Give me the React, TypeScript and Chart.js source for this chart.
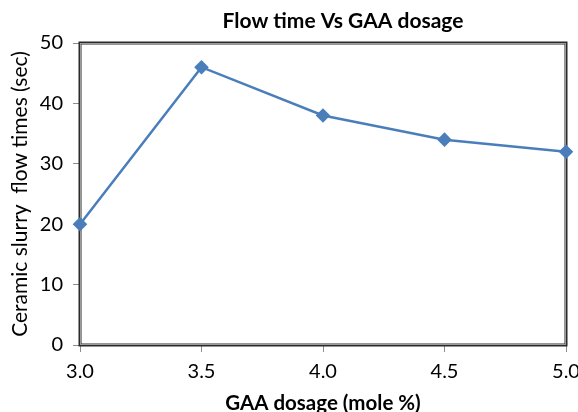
import React, { useEffect, useRef } from "react";
import { Chart, registerables } from "chart.js";

Chart.register(...registerables);

const titleText = "Flow time Vs GAA dosage";
const xAxisTitle = "GAA dosage (mole %)";
const yAxisTitle = "Ceramic slurry  flow times (sec)";
const dosage = [3.0, 3.5, 4.0, 4.5, 5.0];
const flowTimes = [20, 46, 38, 34, 32];
const FONT = "Lato, 'Liberation Sans', sans-serif";
const LINE_COLOR = "#4a7ebb";

const framePlugin = {
  id: "frame",
  beforeDatasetsDraw(chart: any) {
    const { ctx, chartArea: a } = chart;
    ctx.save();
    ctx.strokeStyle = "#2a2a2a";
    ctx.lineWidth = 3;
    ctx.strokeRect(a.left, a.top, a.right - a.left, a.bottom - a.top);
    ctx.strokeStyle = "#9a9a9a";
    ctx.lineWidth = 1;
    ctx.strokeRect(a.left + 0.5, a.top + 0.5, a.right - a.left - 1, a.bottom - a.top - 1);
    ctx.restore();
  },
};

const titlePlugin = {
  id: "customTitle",
  afterDraw(chart: any) {
    const { ctx } = chart;
    ctx.save();
    ctx.font = `bold 21px ${FONT}`;
    ctx.fillStyle = "#000";
    ctx.textAlign = "center";
    ctx.textBaseline = "middle";
    ctx.fillText(titleText, 343, 21);
    ctx.restore();
  },
};

export default function App() {
  const ref = useRef<HTMLCanvasElement>(null);
  useEffect(() => {
    document.body.style.margin = "0";
    const chart = new Chart(ref.current!, {
      type: "line",
      data: {
        datasets: [
          {
            data: dosage.map((x, i) => ({ x, y: flowTimes[i] })),
            borderColor: LINE_COLOR,
            backgroundColor: LINE_COLOR,
            borderWidth: 2.5,
            pointStyle: "rectRot",
            pointRadius: 5.5,
            pointHoverRadius: 5.5,
            tension: 0,
            clip: false as any,
          },
        ],
      },
      options: {
        responsive: false,
        animation: false,
        layout: { padding: { top: 43, right: 12, left: 0, bottom: 0 } },
        plugins: { legend: { display: false }, tooltip: { enabled: false }, title: { display: false } },
        scales: {
          x: {
            type: "linear",
            min: 3,
            max: 5,
            afterFit(scale: any) {
              scale.height = 67;
              scale.paddingRight = 0;
              scale.paddingLeft = 0;
            },
            ticks: {
              stepSize: 0.5,
              padding: 8,
              color: "#000",
              font: { family: FONT, size: 20 },
              callback: (v: any) => Number(v).toFixed(1),
              maxRotation: 0,
            },
            grid: { drawOnChartArea: false, tickLength: 7, color: "#8c8c8c" },
            border: { display: false },
            title: {
              display: true,
              text: xAxisTitle,
              color: "#000",
              font: { family: FONT, size: 20.5, weight: "bold" },
              padding: { top: 0, bottom: -4 },
            },
          },
          y: {
            min: 0,
            max: 50,
            afterFit(scale: any) {
              scale.width = 80;
            },
            ticks: {
              stepSize: 10,
              padding: 10,
              color: "#000",
              font: { family: FONT, size: 20 },
            },
            grid: { drawOnChartArea: false, tickLength: 7, color: "#8c8c8c" },
            border: { display: false },
            title: {
              display: true,
              text: yAxisTitle,
              color: "#000",
              font: { family: FONT, size: 21 },
              padding: { top: 8, bottom: 0 },
            },
          },
        },
      },
      plugins: [framePlugin, titlePlugin],
    });
    return () => chart.destroy();
  }, []);
  return (
    <div style={{ position: "absolute", left: 0, top: 0, width: 578, height: 412 }}>
      <canvas ref={ref} width={578} height={412} />
    </div>
  );
}
